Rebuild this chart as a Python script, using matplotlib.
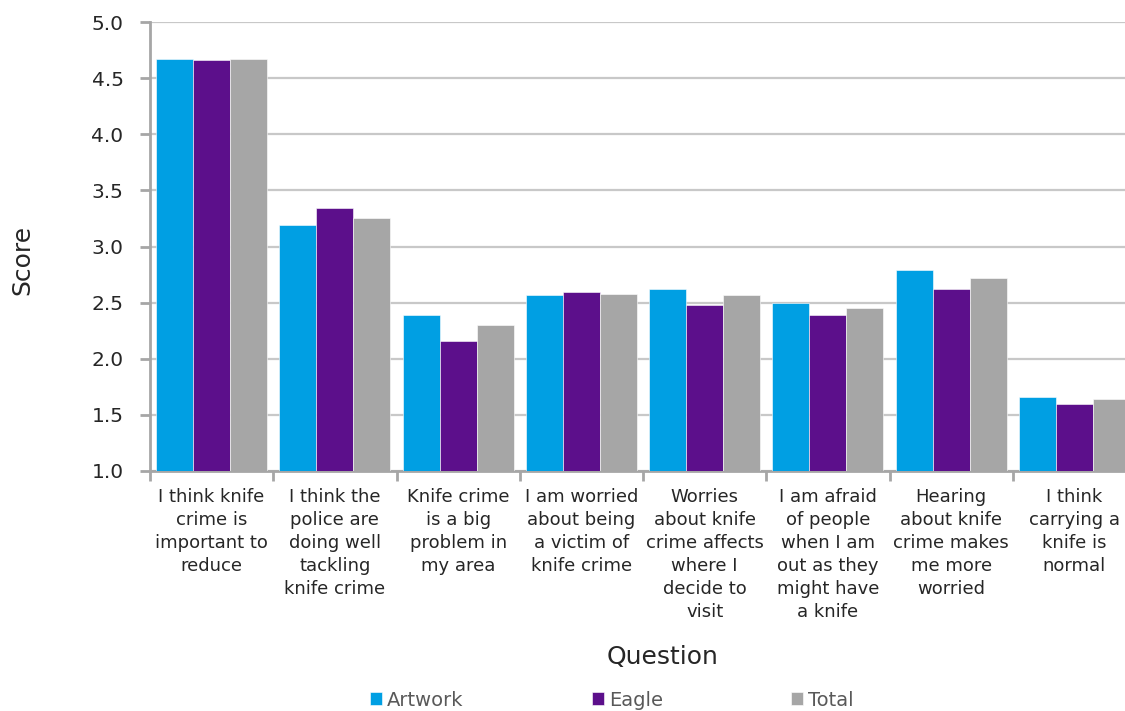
import numpy as np
import matplotlib
matplotlib.use('Agg')
from matplotlib import pyplot as plt

# survey scores per question
questions = ['I think knife\ncrime is\nimportant to\nreduce',
             'I think the\npolice are\ndoing well\ntackling\nknife crime',
             'Knife crime\nis a big\nproblem in\nmy area',
             'I am worried\nabout being\na victim of\nknife crime',
             'Worries\nabout knife\ncrime affects\nwhere I\ndecide to\nvisit',
             'I am afraid\nof people\nwhen I am\nout as they\nmight have\na knife',
             'Hearing\nabout knife\ncrime makes\nme more\nworried',
             'I think\ncarrying a\nknife is\nnormal']
artwork = [4.67, 3.19, 2.39, 2.565, 2.625, 2.50, 2.79, 1.66]
eagle = [4.66, 3.34, 2.16, 2.595, 2.48, 2.39, 2.62, 1.60]
total = [4.67, 3.25, 2.30, 2.58, 2.57, 2.455, 2.72, 1.64]
series_names = ['Artwork', 'Eagle', 'Total']
colours = ['#009FE3', '#5C0F8B', '#A6A6A6']

fig = plt.figure(figsize=(11.25, 7.11), dpi=100)
ax = fig.add_axes([150/1125, 1-471/711, 986/1125, 449/711])

x = np.arange(len(questions))
w = 0.3
for i, (vals, name, col) in enumerate(zip([artwork, eagle, total], series_names, colours)):
    ax.bar(x + (i-1)*w, np.array(vals) - 1.0, bottom=1.0, width=w, color=col,
           edgecolor='white', linewidth=0.4, label=name, zorder=3)

ax.set_xlim(-0.5, len(questions)-0.5)
ax.set_ylim(1.0, 5.0)
ax.set_yticks(np.arange(1.0, 5.01, 0.5))
ax.set_yticklabels(['%.1f' % v for v in np.arange(1.0, 5.01, 0.5)], fontsize=14.5, color='#262626')
ax.grid(axis='y', color='#C8C8C8', linewidth=1.6, zorder=0)

ax.set_xticks(x)
ax.set_xticklabels(questions, fontsize=13, color='#262626', linespacing=1.36)
ax.set_xticks(np.arange(-0.5, len(questions)), minor=True)
ax.tick_params(axis='x', which='major', length=0, pad=12)
ax.tick_params(axis='x', which='minor', length=7, width=2, color='#A6A6A6')
ax.tick_params(axis='y', length=7, width=2, color='#A6A6A6', pad=12)

for s in ['top', 'right']:
    ax.spines[s].set_visible(False)
for s in ['left', 'bottom']:
    ax.spines[s].set_color('#A6A6A6')
    ax.spines[s].set_linewidth(2)

fig.text(22/1125, 1-260/711, 'Score', rotation=90, fontsize=18, color='#262626',
         ha='center', va='center')
fig.text(663/1125, 1-657/711, 'Question', fontsize=18, color='#262626',
         ha='center', va='center')

leg = fig.legend(loc='center', bbox_to_anchor=(612/1125, 1-700/711), ncol=3, frameon=False,
                 fontsize=14, handlelength=0.62, handleheight=0.62, handletextpad=0.25,
                 columnspacing=6.6, borderaxespad=0)
for t in leg.get_texts():
    t.set_color('#595959')

fig.savefig('out.png', dpi=100)
